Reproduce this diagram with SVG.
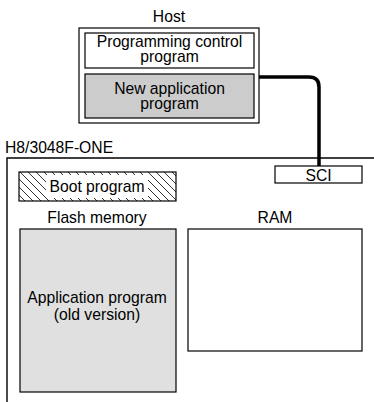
<svg xmlns="http://www.w3.org/2000/svg" width="374" height="402" viewBox="0 0 374 402">
<defs>
<style>
text{font-family:"Liberation Sans",Arial,sans-serif;font-size:15.7px;fill:#000;text-anchor:middle}
.box{stroke:#000;stroke-width:1.2}
.line{fill:none;stroke:#000;stroke-width:1.4}
</style>
<pattern id="hatch" patternUnits="userSpaceOnUse" width="8" height="8">
<path d="M-1,-1 L9,9 M-1,7 L1,9 M7,-1 L9,1" stroke="#000" stroke-width="0.8"/>
</pattern>
</defs>
<rect width="374" height="402" fill="#fff"/>
<g id="host">
<text x="169" y="22">Host</text>
<rect class="box" x="79" y="28" width="180" height="95" fill="#fff"/>
</g>
<g id="programming-control">
<rect class="box" x="85" y="33" width="169" height="35" fill="#fff"/>
<text x="169.5" y="47">Programming control</text>
<text x="169.5" y="62">program</text>
</g>
<g id="new-application">
<rect class="box" x="85" y="74" width="169" height="44" fill="#cccccc"/>
<text x="169.5" y="94">New application</text>
<text x="169.5" y="109">program</text>
</g>
<g id="chip">
<text x="5" y="153" style="text-anchor:start">H8/3048F-ONE</text>
<path class="line" d="M7,402 V158 H374"/>
</g>
<g id="sci">
<rect class="box" x="275" y="166" width="87" height="17" fill="#fff"/>
<text x="318.5" y="180.5">SCI</text>
</g>
<g id="boot">
<rect class="box" x="19" y="172" width="157" height="29" fill="url(#hatch)"/>
<rect x="46" y="175" width="102" height="23" fill="#fff"/>
<text x="97" y="192">Boot program</text>
</g>
<g id="flash">
<text x="97" y="223">Flash memory</text>
<rect class="box" x="20" y="229" width="156" height="163" fill="#e0e0e0"/>
<text x="97" y="303">Application program</text>
<text x="97" y="320">(old version)</text>
</g>
<g id="ram">
<text x="275" y="223">RAM</text>
<rect class="box" x="188" y="229" width="174" height="122" fill="#fff"/>
</g>
<g id="connectors">
<path d="M259,77 H309 Q319,77 319,87 V166" fill="none" stroke="#000" stroke-width="3.5"/>
</g>
</svg>
